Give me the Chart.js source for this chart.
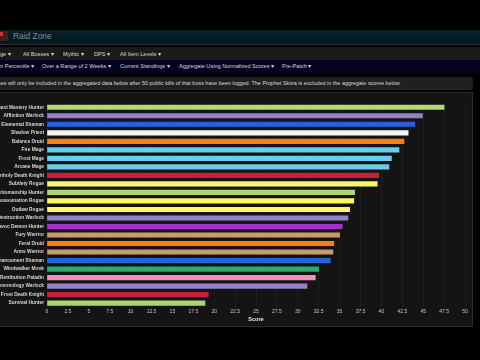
<!DOCTYPE html>
<html>
<head>
<meta charset="utf-8">
<script src="https://cdn.jsdelivr.net/npm/chart.js@4"></script>
<style>
  html, body { margin:0; padding:0; background:#000; width:480px; height:360px; overflow:hidden; }
  body { font-family:"Liberation Sans", sans-serif; position:relative; filter:blur(0.35px); }
  .band { position:absolute; left:0; width:480px; }
  .nav span { position:absolute; top:0; color:#d8d8d8; font-size:5.6px; white-space:nowrap; }
  #topBand { top:30px; height:14px; background:linear-gradient(#04222c,#06161e); border-bottom:1px solid #2c3338; }
  #logo { position:absolute; left:0; top:1px; width:8px; height:10px; background:#4a1a22; border-radius:0 2px 2px 0; }
  #logo i { position:absolute; left:0; top:1px; width:3px; height:4px; background:#d23030; }
  #title { position:absolute; left:13px; top:-1px; color:#7f8c92; font-size:8.4px; line-height:14px; }
  #nav1 { top:47px; height:13px; line-height:14px; background:#1b1a18; }
  #nav2 { top:60px; height:13px; line-height:13px; background:#030320; }
  #notice { top:77px; width:473px; height:13px; line-height:13px; background:#202020; color:#d8d8d8; font-size:5.45px; white-space:nowrap; border-radius:0 2px 2px 0; }
  #notice span { position:absolute; left:-2px; }
  #panel { position:absolute; left:0; top:92px; width:473px; height:235px; background:#141414; border:solid #2a2a2a; border-width:1px 1px 1px 0; box-sizing:border-box; }
  #chartBox { position:absolute; left:0; top:0; width:472px; height:233px; }
</style>
</head>
<body>
<div class="band" id="topBand"><div id="logo"><i></i></div><div id="title">Raid Zone</div></div>
<div class="band nav" id="nav1">
  <span style="left:0">ge ▾</span><span style="left:23px">All Bosses ▾</span><span style="left:63px">Mythic ▾</span><span style="left:94px">DPS ▾</span><span style="left:120px">All Item Levels ▾</span>
</div>
<div class="band nav" id="nav2">
  <span style="left:0">n Percentile ▾</span><span style="left:42px">Over a Range of 2 Weeks ▾</span><span style="left:120px">Current Standings ▾</span><span style="left:179px">Aggregate Using Normalized Scores ▾</span><span style="left:282px">Pre-Patch ▾</span>
</div>
<div class="band" id="notice"><span>ses will only be included in the aggregated data below after 50 public kills of that boss have been logged. The Prophet Skitra is excluded in the aggregate scores below.</span></div>
<div id="panel"><div id="chartBox"><canvas id="scoreChart"></canvas></div></div>

<script>
const specs = ['Beast Mastery Hunter','Affliction Warlock','Elemental Shaman','Shadow Priest','Balance Druid','Fire Mage','Frost Mage','Arcane Mage','Unholy Death Knight','Subtlety Rogue','Marksmanship Hunter','Assassination Rogue','Outlaw Rogue','Destruction Warlock','Havoc Demon Hunter','Fury Warrior','Feral Druid','Arms Warrior','Enhancement Shaman','Windwalker Monk','Retribution Paladin','Demonology Warlock','Frost Death Knight','Survival Hunter'];
const scores = [47.5,44.9,44.0,43.2,42.7,42.1,41.2,40.9,39.7,39.5,36.8,36.7,36.2,36.0,35.3,35.0,34.3,34.2,33.9,32.5,32.1,31.1,19.3,18.9];
const barColors = ['#b5d975','#9482c9','#2462e0','#f4f4f4','#fb7d14','#69ccf0','#69ccf0','#69ccf0','#c41f3b','#fff569','#abd473','#fff569','#fff569','#9482c9','#a330c9','#c79c6e','#fb7d14','#c79c6e','#2462e0','#2fa86f','#f58cba','#9482c9','#c41f3b','#abd473'];
const tickLabels = ['0','2.5','5','7.5','10','12.5','15','17.5','20','22.5','25','27.5','30','32.5','35','37.5','40','42.5','45','47.5','50'];

new Chart(document.getElementById('scoreChart').getContext('2d'), {
  type:'bar',
  data:{
    labels:specs,
    datasets:[{ data:scores, backgroundColor:barColors, barThickness:4.5, borderWidth:0 }]
  },
  options:{
    indexAxis:'y',
    responsive:true,
    maintainAspectRatio:false,
    animation:false,
    layout:{ padding:{ top:10, right:7, left:0, bottom:3 } },
    plugins:{ legend:{ display:false }, tooltip:{ enabled:false } },
    scales:{
      x:{
        min:0, max:50,
        grid:{ color:'#1e1e1e', lineWidth:1, drawTicks:false },
        border:{ display:false },
        title:{ display:true, text:'Score', color:'#f0f0f0', font:{ size:5.5, weight:'bold', family:'Liberation Sans' }, padding:{ top:1, bottom:0 } },
        ticks:{
          stepSize:2.5, color:'#c8c8c8', maxRotation:0, autoSkip:false, padding:1,
          font:{ size:5, family:'Liberation Sans' },
          callback:(v,i)=>tickLabels[i]
        }
      },
      y:{
        grid:{ display:false, drawTicks:false },
        border:{ display:false },
        afterFit:scale=>{ scale.width = 47; },
        ticks:{ color:'#d8d8d8', autoSkip:false, padding:3, font:{ size:4.8, weight:'bold', family:'Liberation Sans' } }
      }
    }
  }
});
</script>
</body>
</html>
